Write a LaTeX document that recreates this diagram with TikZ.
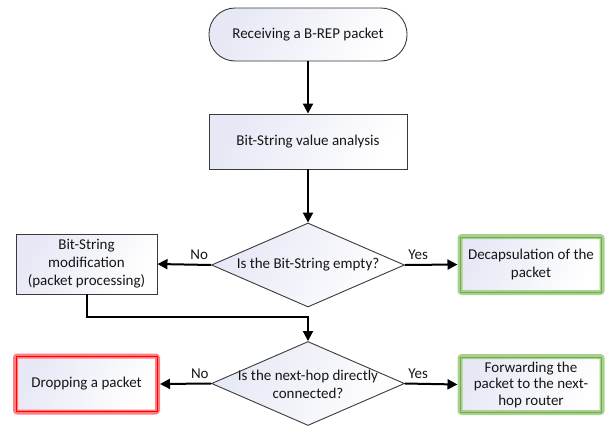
\documentclass[tikz,border=0pt]{standalone}
\usepackage{fontspec}
\setmainfont{Carlito}
\usetikzlibrary{shapes.geometric,arrows.meta}
\definecolor{boxfill}{HTML}{E6E8F5}
\definecolor{outline}{HTML}{3A3A3A}
\definecolor{txt}{HTML}{161616}
\definecolor{okband}{HTML}{A9D08E}
\definecolor{okline}{HTML}{70AD47}
\definecolor{failband}{HTML}{FF7C80}
\definecolor{failline}{HTML}{FF0000}
\begin{document}
\begin{tikzpicture}[x=1pt,y=-1pt,
  font=\fontsize{15}{18}\selectfont, text=txt,
  shaded/.style={top color=boxfill, middle color=white, bottom color=white, shading angle=60},
  terminal/.style={shaded, draw=outline, line width=0.9pt, rounded corners=26pt,
    minimum width=198pt, minimum height=53pt, inner sep=0pt},
  procbox/.style={shaded, draw=outline, line width=0.9pt,
    minimum width=198pt, minimum height=55pt, inner sep=0pt, align=center},
  sidebox/.style={shaded, draw=outline, line width=0.9pt,
    minimum width=141pt, minimum height=60pt, inner sep=0pt, align=center},
  decision/.style={diamond, shaded, draw=outline, line width=0.9pt,
    minimum width=193pt, minimum height=84pt, inner sep=0pt},
  endbox/.style={shaded, line width=5pt, rounded corners=2pt,
    minimum width=142pt, minimum height=56pt, inner sep=0pt, align=center},
  okbox/.style={endbox, draw=okband},
  failbox/.style={endbox, draw=failband},
  conn/.style={draw=black, line width=2pt, -{Triangle[length=10pt,width=10pt]}},
  branch/.style={font=\fontsize{15}{17}\selectfont, inner sep=1pt}
]
\useasboundingbox (0,0) rectangle (613,426);

% main column
\node[terminal] (start) at (308,34.5) {Receiving a B-REP packet};
\node[procbox] (analysis) at (308,141.5) {Bit-String value analysis};
\node[decision] (q1) at (308,265) {};
\node (q1text) at (308,265) {Is the Bit-String empty?};
\node[decision] (q2) at (308,383.5) {};
\node[align=center] (q2text) at (308,384) {Is the next-hop directly\\connected?};

% side boxes
\node[sidebox] (mod) at (86.5,264) {Bit-String\\modification\\(packet processing)};
\node[okbox] (dec) at (531,264.5) {Decapsulation of the\\packet};
\node[failbox] (drop) at (86.5,384) {Dropping a packet};
\node[okbox, font=\fontsize{15}{16.5}\selectfont] (fwd) at (531,384.5)
  {Forwarding the\\packet to the next-\\hop router};

% inner frames of the end boxes
\foreach \b/\c in {dec/okline, fwd/okline, drop/failline}
  \draw[\c, line width=0.8pt]
    ([shift={(3pt,3pt)}]\b.south west) rectangle ([shift={(-3pt,-3pt)}]\b.north east);

% connectors
\draw[conn] (start) -- (analysis);
\draw[conn] (analysis) -- (q1);
\draw[conn] (q1.west) -- node[branch, pos=0.22, above=3pt] {No} (mod.east);
\draw[conn] (q1.east) -- node[branch, pos=0.25, above=3pt] {Yes} (dec.west);
\coordinate (bend) at ([yshift=-23pt]mod.south);
\draw[conn] (mod.south) -- (bend) -| (q2.north);
\draw[conn] (q2.west) -- node[branch, pos=0.22, above=3pt] {No} (drop.east);
\draw[conn] (q2.east) -- node[branch, pos=0.25, above=3pt] {Yes} (fwd.west);
\end{tikzpicture}
\end{document}
